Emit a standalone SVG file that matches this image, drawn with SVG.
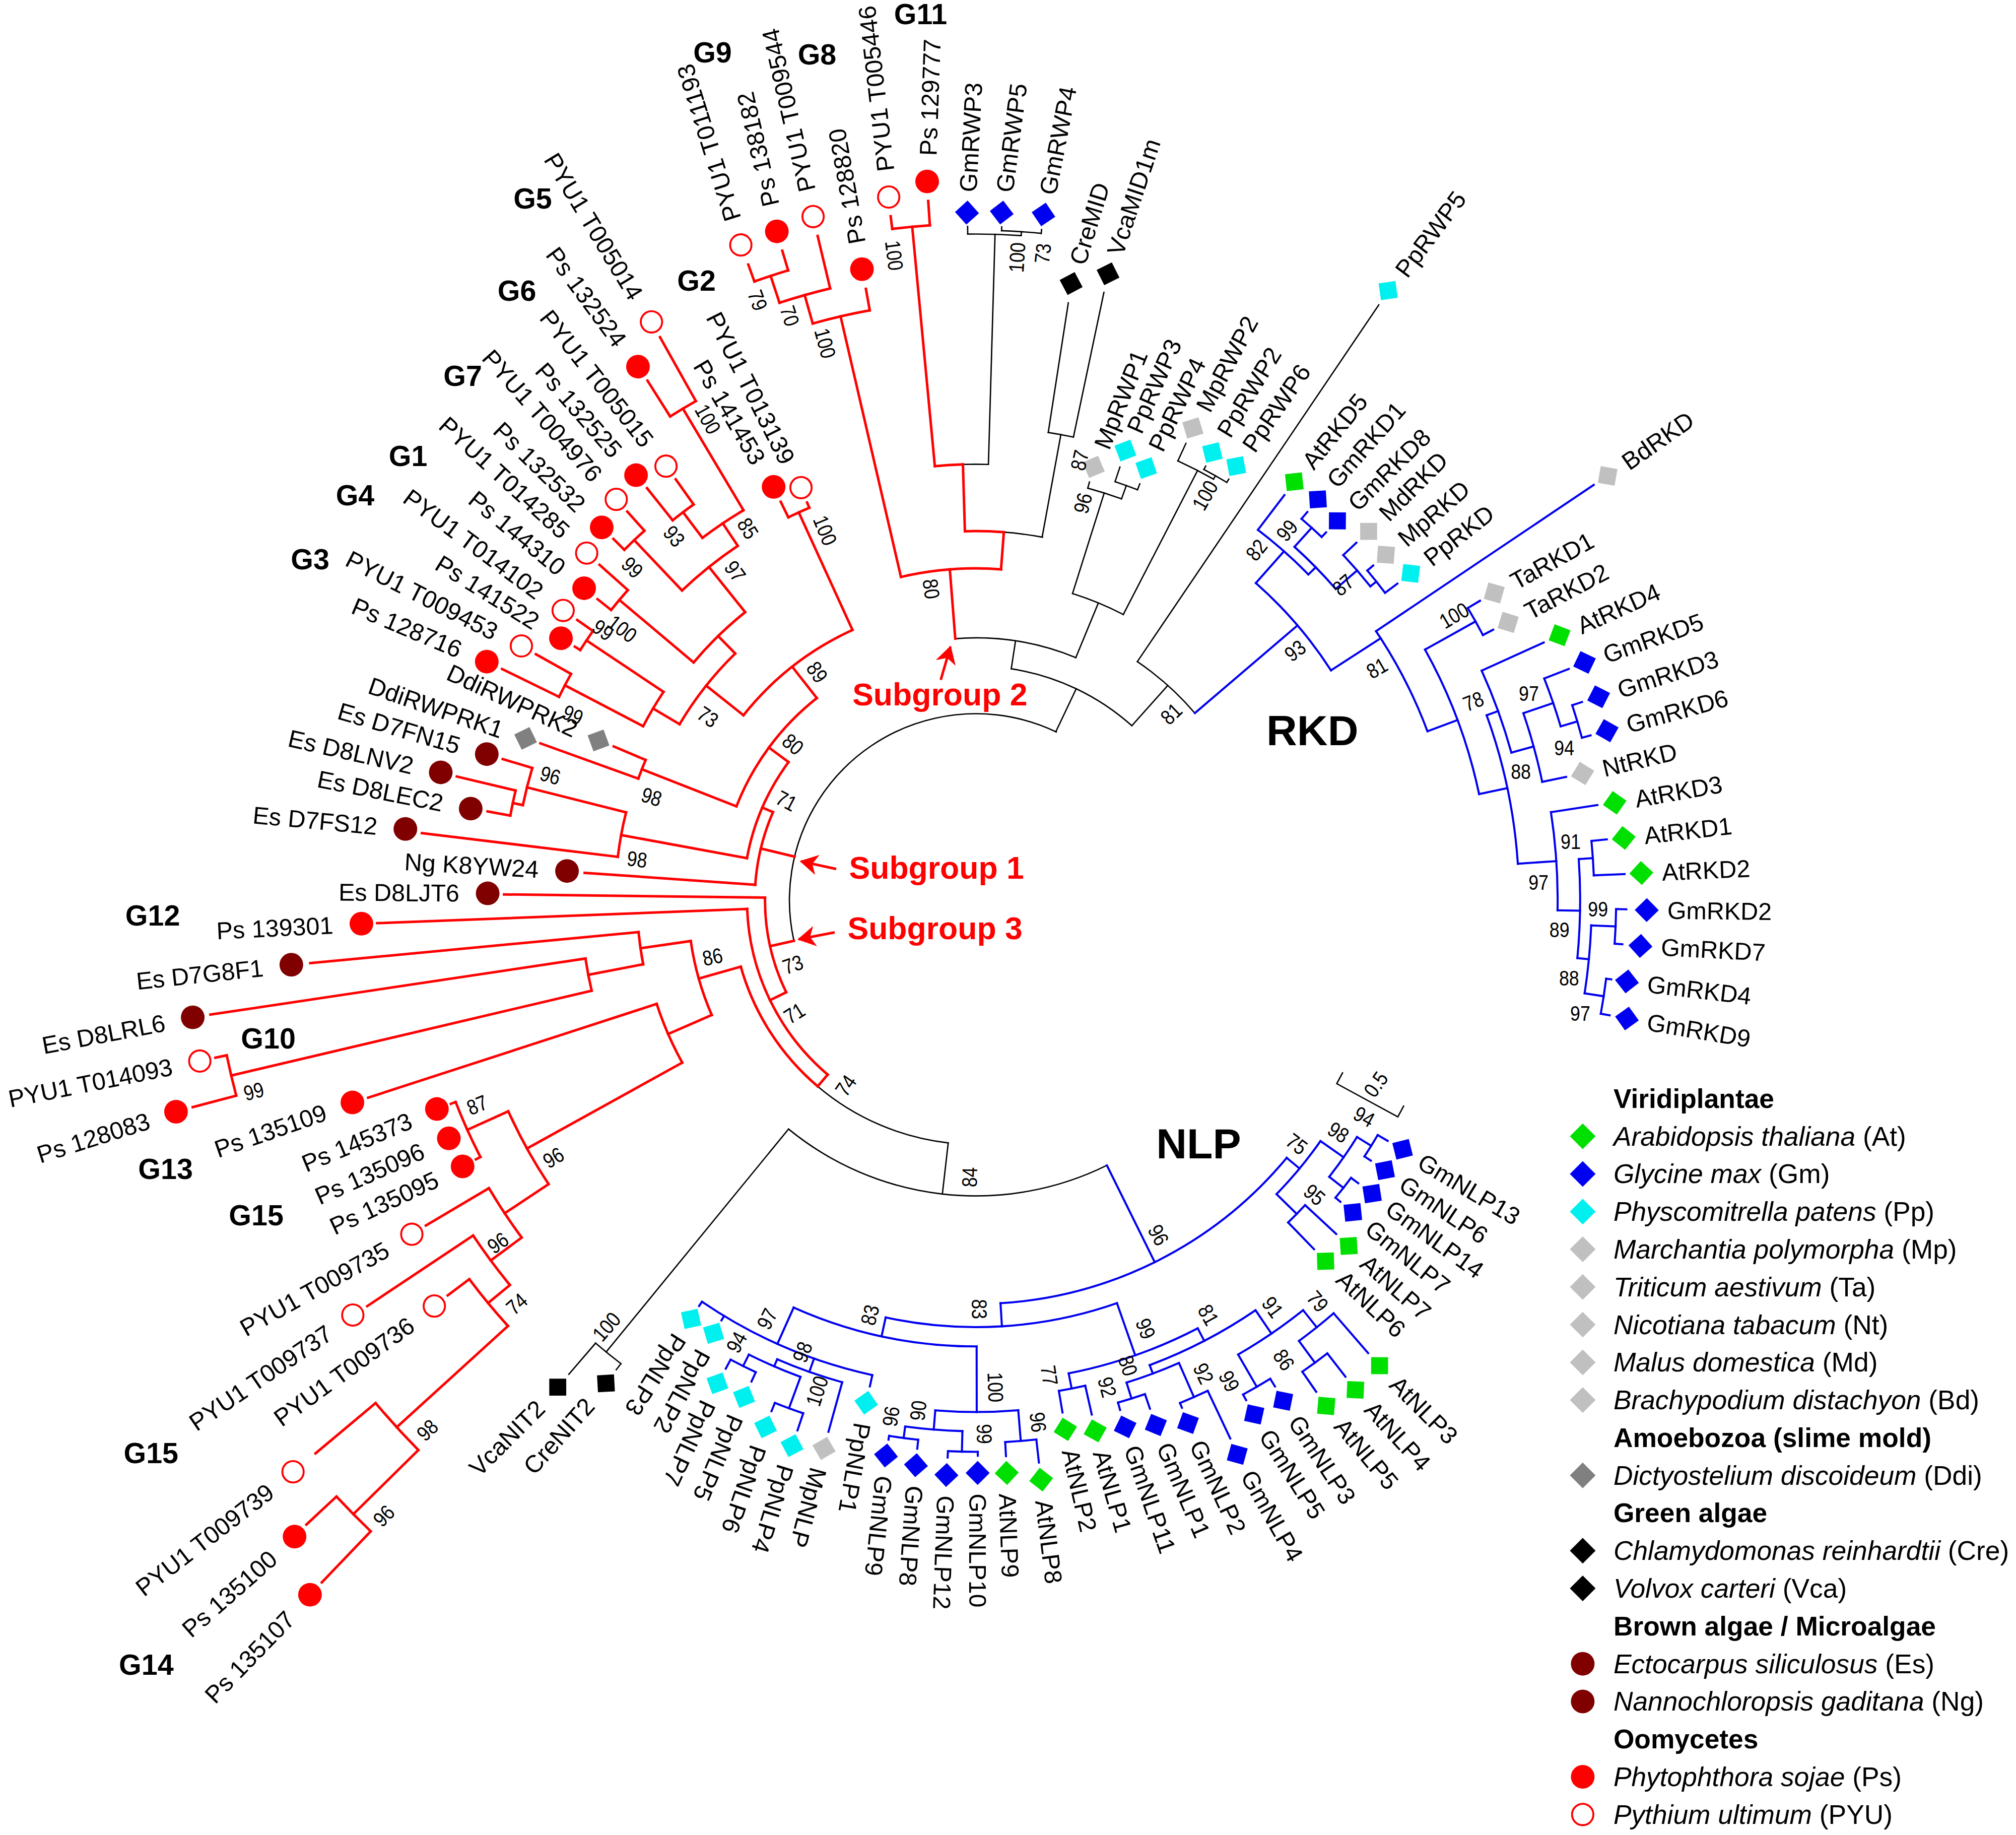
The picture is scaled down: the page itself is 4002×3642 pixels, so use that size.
<svg xmlns="http://www.w3.org/2000/svg" width="4002" height="3642" viewBox="0 0 4002 3642">
<style>
text{font-family:"Liberation Sans",Arial,sans-serif;fill:#000}
.lf{font-size:19px;dominant-baseline:central}
.e{text-anchor:end}
.bs{font-size:16.5px;text-anchor:middle;dominant-baseline:central}
.gl{font-size:22.5px;font-weight:bold}
.sg{font-size:24.5px;font-weight:bold;fill:#ff0000}
.cl{font-size:33px;font-weight:bold}
.lg{font-size:20.9px}
.lh{font-size:20.9px;font-weight:bold}
.i{font-style:italic}
.r{fill:none;stroke:#ff0000;stroke-width:1.96px;stroke-linecap:square}
.k{fill:none;stroke:#000;stroke-width:1.05px;stroke-linecap:square}
.b{fill:none;stroke:#0000f0;stroke-width:1.6px;stroke-linecap:square}
</style>
<defs>
<circle id="ps" r="9.2" fill="#ff0000"/>
<circle id="py" r="8.3" fill="#fff" stroke="#ff0000" stroke-width="1.5"/>
<circle id="es" r="9.2" fill="#800000"/>
<rect id="sq" x="-6.6" y="-6.6" width="13.2" height="13.2"/>
<marker id="ah" viewBox="0 0 14 16" refX="13" refY="8" markerWidth="14" markerHeight="16" markerUnits="userSpaceOnUse" orient="auto"><path d="M0,0 L14,8 L0,16 L4,8 z" fill="#ff0000"/></marker>
</defs>
<rect width="4002" height="3642" fill="#fff"/>
<g transform="scale(2.5523)">
<g id="branches" transform="translate(759,700)">
<g id="br-black" class="k">
<circle r="145" stroke-dasharray="324.2 9999" transform="rotate(167.4)"/>
<path d="M145,0H182" transform="rotate(-64.6)"/>
<circle r="182" stroke-dasharray="105.1 9999" transform="rotate(-81.3)"/>
<path d="M182,0H204" transform="rotate(-81.3)"/>
<circle r="204" stroke-dasharray="95.8 9999" transform="rotate(-94.5)"/>
<path d="M204,0H250" transform="rotate(-67.6)"/>
<circle r="250" stroke-dasharray="42.8 9999" transform="rotate(-72.5)"/>
<path d="M250,0H332" transform="rotate(-72.5)"/>
<circle r="332" stroke-dasharray="27.5 9999" transform="rotate(-74.8)"/>
<path d="M332,0H337" transform="rotate(-74.8)"/>
<path d="M332,0H343" transform="rotate(-70.05)"/>
<circle r="343" stroke-dasharray="18.6 9999" transform="rotate(-71.6)"/>
<path d="M343,0H355" transform="rotate(-71.6)"/>
<path d="M343,0H348" transform="rotate(-68.5)"/>
<path d="M250,0H376" transform="rotate(-62.7)"/>
<circle r="376" stroke-dasharray="31.2 9999" transform="rotate(-65.3)"/>
<path d="M376,0H391" transform="rotate(-65.3)"/>
<path d="M376,0H379" transform="rotate(-60.55)"/>
<circle r="379" stroke-dasharray="20.5 9999" transform="rotate(-62.1)"/>
<path d="M379,0H382" transform="rotate(-62.1)"/>
<path d="M379,0H382" transform="rotate(-59)"/>
<path d="M182,0H224" transform="rotate(-48.2)"/>
<circle r="224" stroke-dasharray="60.2 9999" transform="rotate(-55.9)"/>
<path d="M224,0H559" transform="rotate(-55.9)"/>
<circle r="287" stroke-dasharray="30.3 9999" transform="rotate(-85.65)"/>
<path d="M287,0H368" transform="rotate(-79.65)"/>
<circle r="368" stroke-dasharray="19.9 9999" transform="rotate(-81.2)"/>
<path d="M368,0H470" transform="rotate(-81.2)"/>
<path d="M368,0H483" transform="rotate(-78.1)"/>
<circle r="339" stroke-dasharray="19.8 9999" transform="rotate(-91.7)"/>
<path d="M339,0H518" transform="rotate(-88.35)"/>
<circle r="518" stroke-dasharray="41.6 9999" transform="rotate(-90.7)"/>
<path d="M518,0H524" transform="rotate(-90.7)"/>
<path d="M518,0H521" transform="rotate(-86.1)"/>
<circle r="521" stroke-dasharray="30.9 9999" transform="rotate(-87.8)"/>
<path d="M521,0H524" transform="rotate(-87.8)"/>
<path d="M521,0H524" transform="rotate(-84.4)"/>
<circle r="230" stroke-dasharray="263.3 9999" transform="rotate(63.7)"/>
<path d="M190,0H230" transform="rotate(96.5)"/>
<circle r="190" stroke-dasharray="112.2 9999" transform="rotate(96.5)"/>
<path d="M230,0H454" transform="rotate(129.3)"/>
<circle r="454" stroke-dasharray="25.4 9999" transform="rotate(127.45)"/>
<path d="M454,0H460" transform="rotate(127.45)"/>
<path d="M454,0H486" transform="rotate(130.65)"/>
</g>
<g id="br-red" class="r">
<path d="M204,0H258" transform="rotate(-94.5)"/>
<circle r="258" stroke-dasharray="78.4 9999" transform="rotate(-103.05)"/>
<path d="M258,0H466" transform="rotate(-103.05)"/>
<circle r="466" stroke-dasharray="45.5 9999" transform="rotate(-105.8)"/>
<path d="M466,0H483" transform="rotate(-100.2)"/>
<path d="M466,0H489" transform="rotate(-105.8)"/>
<circle r="489" stroke-dasharray="41 9999" transform="rotate(-108.2)"/>
<path d="M489,0H531" transform="rotate(-103.4)"/>
<path d="M489,0H511" transform="rotate(-108.2)"/>
<circle r="511" stroke-dasharray="27.7 9999" transform="rotate(-109.7)"/>
<path d="M511,0H525" transform="rotate(-109.7)"/>
<path d="M511,0H527" transform="rotate(-106.6)"/>
<path d="M258,0H287" transform="rotate(-85.65)"/>
<circle r="287" stroke-dasharray="30.3 9999" transform="rotate(-91.7)"/>
<path d="M287,0H339" transform="rotate(-91.7)"/>
<circle r="339" stroke-dasharray="21.9 9999" transform="rotate(-95.4)"/>
<path d="M339,0H526" transform="rotate(-95.4)"/>
<circle r="526" stroke-dasharray="29.4 9999" transform="rotate(-97.1)"/>
<path d="M526,0H536" transform="rotate(-97.1)"/>
<path d="M526,0H545" transform="rotate(-93.9)"/>
<path d="M145,0H172" transform="rotate(-166.5)"/>
<circle r="172" stroke-dasharray="58.4 9999" transform="rotate(-176)"/>
<path d="M172,0H305" transform="rotate(-176)"/>
<path d="M172,0H181" transform="rotate(-156.55)"/>
<circle r="181" stroke-dasharray="82.1 9999" transform="rotate(-169.6)"/>
<path d="M181,0H280.5" transform="rotate(-169.6)"/>
<circle r="280.5" stroke-dasharray="35.2 9999" transform="rotate(-173.1)"/>
<path d="M280.5,0H434" transform="rotate(-173.1)"/>
<path d="M280.5,0H360" transform="rotate(-165.9)"/>
<circle r="360" stroke-dasharray="29.8 9999" transform="rotate(-168.15)"/>
<path d="M360,0H384" transform="rotate(-163.4)"/>
<path d="M360,0H368" transform="rotate(-168.15)"/>
<circle r="368" stroke-dasharray="19.9 9999" transform="rotate(-169.7)"/>
<path d="M368,0H386" transform="rotate(-169.7)"/>
<path d="M368,0H415" transform="rotate(-166.6)"/>
<path d="M181,0H200" transform="rotate(-143.6)"/>
<circle r="200" stroke-dasharray="106.1 9999" transform="rotate(-158.6)"/>
<path d="M200,0H279" transform="rotate(-158.6)"/>
<circle r="279" stroke-dasharray="15.6 9999" transform="rotate(-160.2)"/>
<path d="M279,0H360" transform="rotate(-160.2)"/>
<path d="M279,0H306" transform="rotate(-157)"/>
<path d="M200,0H231" transform="rotate(-128.2)"/>
<circle r="231" stroke-dasharray="108.7 9999" transform="rotate(-141.5)"/>
<path d="M231,0H331.5" transform="rotate(-114.55)"/>
<circle r="331.5" stroke-dasharray="17.9 9999" transform="rotate(-116.1)"/>
<path d="M331.5,0H345" transform="rotate(-116.1)"/>
<path d="M331.5,0H336" transform="rotate(-113)"/>
<path d="M231,0H268" transform="rotate(-141.5)"/>
<circle r="268" stroke-dasharray="70.2 9999" transform="rotate(-149.3)"/>
<path d="M268,0H292" transform="rotate(-149.3)"/>
<circle r="292" stroke-dasharray="31.1 9999" transform="rotate(-152.4)"/>
<path d="M292,0H360.7" transform="rotate(-152.4)"/>
<circle r="360.7" stroke-dasharray="20.1 9999" transform="rotate(-154)"/>
<path d="M360.7,0H410" transform="rotate(-154)"/>
<path d="M360.7,0H392" transform="rotate(-150.8)"/>
<path d="M292,0H364" transform="rotate(-146.3)"/>
<circle r="364" stroke-dasharray="17.8 9999" transform="rotate(-147.7)"/>
<path d="M364,0H369" transform="rotate(-147.7)"/>
<path d="M364,0H379" transform="rotate(-144.9)"/>
<path d="M268,0H287" transform="rotate(-134.3)"/>
<circle r="287" stroke-dasharray="56.1 9999" transform="rotate(-139.9)"/>
<path d="M287,0H362.5" transform="rotate(-139.9)"/>
<circle r="362.5" stroke-dasharray="20.2 9999" transform="rotate(-141.5)"/>
<path d="M362.5,0H376" transform="rotate(-141.5)"/>
<path d="M362.5,0H392" transform="rotate(-138.3)"/>
<path d="M287,0H332" transform="rotate(-128.7)"/>
<circle r="332" stroke-dasharray="55.6 9999" transform="rotate(-133.5)"/>
<path d="M332,0H386" transform="rotate(-133.5)"/>
<circle r="386" stroke-dasharray="21.6 9999" transform="rotate(-135.1)"/>
<path d="M386,0H398" transform="rotate(-135.1)"/>
<path d="M386,0H406" transform="rotate(-131.9)"/>
<path d="M332,0H353" transform="rotate(-123.9)"/>
<circle r="353" stroke-dasharray="38.5 9999" transform="rotate(-127.05)"/>
<path d="M353,0H378" transform="rotate(-127.05)"/>
<circle r="378" stroke-dasharray="20.5 9999" transform="rotate(-128.6)"/>
<path d="M378,0H410" transform="rotate(-128.6)"/>
<path d="M378,0H402" transform="rotate(-125.5)"/>
<path d="M353,0H445" transform="rotate(-120.8)"/>
<circle r="445" stroke-dasharray="23.3 9999" transform="rotate(-122.3)"/>
<path d="M445,0H478" transform="rotate(-122.3)"/>
<path d="M445,0H502" transform="rotate(-119.3)"/>
<path d="M145,0H164" transform="rotate(167.4)"/>
<circle r="164" stroke-dasharray="76.1 9999" transform="rotate(154.1)"/>
<path d="M164,0H367" transform="rotate(180.7)"/>
<path d="M164,0H178" transform="rotate(154.1)"/>
<circle r="178" stroke-dasharray="147.4 9999" transform="rotate(130.35)"/>
<path d="M178,0H466" transform="rotate(177.8)"/>
<path d="M178,0H190" transform="rotate(130.35)"/>
<circle r="190" stroke-dasharray="112.3 9999" transform="rotate(130.35)"/>
<path d="M190,0H224" transform="rotate(164.2)"/>
<circle r="224" stroke-dasharray="60 9999" transform="rotate(156.5)"/>
<path d="M224,0H263.5" transform="rotate(171.85)"/>
<circle r="263.5" stroke-dasharray="25.3 9999" transform="rotate(169.1)"/>
<path d="M263.5,0H520" transform="rotate(174.6)"/>
<path d="M263.5,0H307" transform="rotate(169.1)"/>
<circle r="307" stroke-dasharray="25.5 9999" transform="rotate(166.75)"/>
<path d="M307,0H602" transform="rotate(171.5)"/>
<path d="M307,0H595" transform="rotate(166.75)"/>
<circle r="595" stroke-dasharray="32.2 9999" transform="rotate(165.2)"/>
<path d="M595,0H604" transform="rotate(168.3)"/>
<path d="M595,0H630" transform="rotate(165.2)"/>
<path d="M224,0H261" transform="rotate(156.5)"/>
<circle r="261" stroke-dasharray="49.9 9999" transform="rotate(151.05)"/>
<path d="M261,0H497" transform="rotate(162)"/>
<path d="M261,0H399" transform="rotate(151.05)"/>
<circle r="399" stroke-dasharray="64.8 9999" transform="rotate(146.4)"/>
<path d="M399,0H434" transform="rotate(155.7)"/>
<circle r="434" stroke-dasharray="47 9999" transform="rotate(152.6)"/>
<path d="M434,0H438" transform="rotate(158.8)"/>
<path d="M434,0H438" transform="rotate(152.6)"/>
<path d="M399,0H440" transform="rotate(146.4)"/>
<circle r="440" stroke-dasharray="46.1 9999" transform="rotate(143.4)"/>
<path d="M440,0H497" transform="rotate(149.4)"/>
<path d="M440,0H470" transform="rotate(143.4)"/>
<circle r="470" stroke-dasharray="48 9999" transform="rotate(140.45)"/>
<path d="M470,0H569" transform="rotate(146.3)"/>
<path d="M470,0H492" transform="rotate(140.45)"/>
<circle r="492" stroke-dasharray="47.2 9999" transform="rotate(137.7)"/>
<path d="M492,0H513" transform="rotate(143.2)"/>
<path d="M492,0H609" transform="rotate(137.7)"/>
<circle r="609" stroke-dasharray="49.4 9999" transform="rotate(135.4)"/>
<path d="M609,0H670" transform="rotate(140.05)"/>
<path d="M609,0H680" transform="rotate(135.4)"/>
<circle r="680" stroke-dasharray="38 9999" transform="rotate(133.8)"/>
<path d="M680,0H712" transform="rotate(137)"/>
<path d="M680,0H735" transform="rotate(133.8)"/>
</g>
<g id="br-blue" class="b">
<path d="M224,0H329" transform="rotate(-40.5)"/>
<circle r="329" stroke-dasharray="89.9 9999" transform="rotate(-48.55)"/>
<path d="M329,0H362" transform="rotate(-48.55)"/>
<circle r="362" stroke-dasharray="52.4 9999" transform="rotate(-52.7)"/>
<path d="M362,0H396" transform="rotate(-52.7)"/>
<path d="M362,0H370" transform="rotate(-44.4)"/>
<circle r="370" stroke-dasharray="45.9 9999" transform="rotate(-47.95)"/>
<path d="M370,0H390" transform="rotate(-47.95)"/>
<circle r="390" stroke-dasharray="21.1 9999" transform="rotate(-49.5)"/>
<path d="M390,0H397" transform="rotate(-49.5)"/>
<path d="M390,0H395" transform="rotate(-46.4)"/>
<path d="M370,0H392" transform="rotate(-40.85)"/>
<circle r="392" stroke-dasharray="32.2 9999" transform="rotate(-43.2)"/>
<path d="M392,0H406" transform="rotate(-43.2)"/>
<path d="M392,0H398" transform="rotate(-38.5)"/>
<circle r="398" stroke-dasharray="22.2 9999" transform="rotate(-40.1)"/>
<path d="M398,0H404" transform="rotate(-40.1)"/>
<path d="M398,0H410" transform="rotate(-36.9)"/>
<path d="M329,0H375" transform="rotate(-32.9)"/>
<circle r="375" stroke-dasharray="87.7 9999" transform="rotate(-33.9)"/>
<path d="M375,0H579" transform="rotate(-33.9)"/>
<path d="M375,0H400" transform="rotate(-20.5)"/>
<circle r="400" stroke-dasharray="120.4 9999" transform="rotate(-29.15)"/>
<path d="M400,0H445" transform="rotate(-29.15)"/>
<circle r="445" stroke-dasharray="24.1 9999" transform="rotate(-30.7)"/>
<path d="M445,0H456" transform="rotate(-30.7)"/>
<path d="M445,0H454" transform="rotate(-27.6)"/>
<path d="M400,0H422.5" transform="rotate(-11.9)"/>
<circle r="422.5" stroke-dasharray="118.4 9999" transform="rotate(-19.9)"/>
<path d="M422.5,0H432" transform="rotate(-19.9)"/>
<circle r="432" stroke-dasharray="67.9 9999" transform="rotate(-24.4)"/>
<path d="M432,0H485" transform="rotate(-24.4)"/>
<path d="M432,0H450" transform="rotate(-15.4)"/>
<circle r="450" stroke-dasharray="55.4 9999" transform="rotate(-18.85)"/>
<path d="M450,0H469" transform="rotate(-11.8)"/>
<path d="M450,0H474.5" transform="rotate(-18.85)"/>
<circle r="474.5" stroke-dasharray="39.3 9999" transform="rotate(-21.3)"/>
<path d="M474.5,0H495" transform="rotate(-21.3)"/>
<path d="M474.5,0H488" transform="rotate(-16.55)"/>
<circle r="488" stroke-dasharray="26.4 9999" transform="rotate(-18.1)"/>
<path d="M488,0H496" transform="rotate(-18.1)"/>
<path d="M488,0H495" transform="rotate(-15)"/>
<path d="M422.5,0H452.5" transform="rotate(-3.85)"/>
<circle r="452.5" stroke-dasharray="76.6 9999" transform="rotate(-8.7)"/>
<path d="M452.5,0H489" transform="rotate(-8.7)"/>
<path d="M452.5,0H470" transform="rotate(1)"/>
<circle r="470" stroke-dasharray="77.1 9999" transform="rotate(-3.9)"/>
<path d="M470,0H481" transform="rotate(-3.9)"/>
<circle r="481" stroke-dasharray="26.9 9999" transform="rotate(-5.5)"/>
<path d="M481,0H493" transform="rotate(-5.5)"/>
<path d="M481,0H505" transform="rotate(-2.3)"/>
<path d="M470,0H479" transform="rotate(5.5)"/>
<circle r="479" stroke-dasharray="53.1 9999" transform="rotate(2.35)"/>
<path d="M479,0H498" transform="rotate(2.35)"/>
<circle r="498" stroke-dasharray="26.9 9999" transform="rotate(0.8)"/>
<path d="M498,0H506" transform="rotate(0.8)"/>
<path d="M498,0H504" transform="rotate(3.9)"/>
<path d="M479,0H494" transform="rotate(8.7)"/>
<circle r="494" stroke-dasharray="27.6 9999" transform="rotate(7.1)"/>
<path d="M494,0H498" transform="rotate(7.1)"/>
<path d="M494,0H501" transform="rotate(10.3)"/>
<path d="M230,0H314" transform="rotate(63.7)"/>
<circle r="314" stroke-dasharray="256.8 9999" transform="rotate(39.65)"/>
<path d="M314,0H327" transform="rotate(39.65)"/>
<circle r="327" stroke-dasharray="53.6 9999" transform="rotate(34.95)"/>
<path d="M327,0H349" transform="rotate(34.95)"/>
<circle r="349" stroke-dasharray="37.8 9999" transform="rotate(31.85)"/>
<path d="M349,0H362" transform="rotate(31.85)"/>
<circle r="362" stroke-dasharray="19.6 9999" transform="rotate(30.3)"/>
<path d="M362,0H371" transform="rotate(30.3)"/>
<path d="M362,0H368" transform="rotate(33.4)"/>
<path d="M349,0H363" transform="rotate(38.05)"/>
<circle r="363" stroke-dasharray="19.6 9999" transform="rotate(36.5)"/>
<path d="M363,0H370" transform="rotate(36.5)"/>
<path d="M363,0H368" transform="rotate(39.6)"/>
<path d="M327,0H349" transform="rotate(44.35)"/>
<circle r="349" stroke-dasharray="18.9 9999" transform="rotate(42.8)"/>
<path d="M349,0H382" transform="rotate(42.8)"/>
<path d="M349,0H378" transform="rotate(45.9)"/>
<path d="M314,0H332" transform="rotate(86.5)"/>
<circle r="332" stroke-dasharray="182.5 9999" transform="rotate(70.7)"/>
<path d="M332,0H375" transform="rotate(70.7)"/>
<circle r="375" stroke-dasharray="106.7 9999" transform="rotate(62.6)"/>
<path d="M375,0H387" transform="rotate(78.9)"/>
<circle r="387" stroke-dasharray="20.9 9999" transform="rotate(77.3)"/>
<path d="M387,0H410" transform="rotate(77.3)"/>
<path d="M387,0H404" transform="rotate(80.4)"/>
<path d="M375,0H386" transform="rotate(62.6)"/>
<circle r="386" stroke-dasharray="93 9999" transform="rotate(55.7)"/>
<path d="M386,0H408" transform="rotate(55.7)"/>
<circle r="408" stroke-dasharray="61.2 9999" transform="rotate(51.4)"/>
<path d="M408,0H425" transform="rotate(51.4)"/>
<circle r="425" stroke-dasharray="34.5 9999" transform="rotate(49.1)"/>
<path d="M425,0H466" transform="rotate(49.1)"/>
<path d="M425,0H446" transform="rotate(53.75)"/>
<circle r="446" stroke-dasharray="24.1 9999" transform="rotate(52.2)"/>
<path d="M446,0H469" transform="rotate(52.2)"/>
<path d="M446,0H465" transform="rotate(55.3)"/>
<path d="M408,0H437" transform="rotate(60)"/>
<circle r="437" stroke-dasharray="24.4 9999" transform="rotate(58.4)"/>
<path d="M437,0H444" transform="rotate(58.4)"/>
<path d="M437,0H442" transform="rotate(61.6)"/>
<path d="M386,0H393" transform="rotate(69.5)"/>
<circle r="393" stroke-dasharray="43.6 9999" transform="rotate(66.3)"/>
<path d="M393,0H406" transform="rotate(72.65)"/>
<circle r="406" stroke-dasharray="22 9999" transform="rotate(71.1)"/>
<path d="M406,0H418" transform="rotate(71.1)"/>
<path d="M406,0H412" transform="rotate(74.2)"/>
<path d="M393,0H422" transform="rotate(66.3)"/>
<circle r="422" stroke-dasharray="23.6 9999" transform="rotate(64.7)"/>
<path d="M422,0H463" transform="rotate(64.7)"/>
<path d="M422,0H426" transform="rotate(67.9)"/>
<path d="M332,0H347" transform="rotate(102.2)"/>
<circle r="347" stroke-dasharray="146.6 9999" transform="rotate(89.9)"/>
<path d="M347,0H398" transform="rotate(89.9)"/>
<circle r="398" stroke-dasharray="64.6 9999" transform="rotate(85.25)"/>
<path d="M398,0H422" transform="rotate(85.25)"/>
<circle r="422" stroke-dasharray="24.3 9999" transform="rotate(83.6)"/>
<path d="M422,0H440" transform="rotate(83.6)"/>
<path d="M422,0H433" transform="rotate(86.9)"/>
<path d="M398,0H413" transform="rotate(94.55)"/>
<circle r="413" stroke-dasharray="44.7 9999" transform="rotate(91.45)"/>
<path d="M413,0H429" transform="rotate(91.45)"/>
<circle r="429" stroke-dasharray="23.2 9999" transform="rotate(89.8)"/>
<path d="M429,0H432" transform="rotate(89.8)"/>
<path d="M429,0H434" transform="rotate(92.9)"/>
<path d="M413,0H422" transform="rotate(97.65)"/>
<circle r="422" stroke-dasharray="22.8 9999" transform="rotate(96.1)"/>
<path d="M422,0H429" transform="rotate(96.1)"/>
<path d="M422,0H425" transform="rotate(99.2)"/>
<path d="M347,0H378" transform="rotate(114.1)"/>
<circle r="378" stroke-dasharray="145.1 9999" transform="rotate(102.3)"/>
<path d="M378,0H382" transform="rotate(124.3)"/>
<path d="M378,0H382" transform="rotate(121.2)"/>
<path d="M378,0H387" transform="rotate(102.3)"/>
<path d="M378,0H389" transform="rotate(109.45)"/>
<circle r="389" stroke-dasharray="53.6 9999" transform="rotate(105.5)"/>
<path d="M389,0H429" transform="rotate(105.5)"/>
<path d="M389,0H395" transform="rotate(113.4)"/>
<circle r="395" stroke-dasharray="43.8 9999" transform="rotate(110.2)"/>
<path d="M395,0H421" transform="rotate(110.2)"/>
<circle r="421" stroke-dasharray="23.5 9999" transform="rotate(108.6)"/>
<path d="M421,0H435" transform="rotate(108.6)"/>
<path d="M421,0H428" transform="rotate(111.8)"/>
<path d="M395,0H405" transform="rotate(116.55)"/>
<circle r="405" stroke-dasharray="21.9 9999" transform="rotate(115)"/>
<path d="M405,0H413" transform="rotate(115)"/>
<path d="M405,0H413" transform="rotate(118.1)"/>
</g>
</g>
<g id="leaves">
<g id="leaf-PYU1-T011193"><use href="#py" x="576.2" y="190.5"/><text class="lf" transform="translate(570.2,171.4) rotate(-107.4)">PYU1 T011193</text></g>
<g id="leaf-Ps-138182"><use href="#ps" x="604.2" y="179.9"/><text class="lf" transform="translate(599.7,160.4) rotate(-103)">Ps 138182</text></g>
<g id="leaf-PYU1-T009544"><use href="#py" x="632.4" y="168.4"/><text class="lf" transform="translate(627.9,148.9) rotate(-103)">PYU1 T009544</text></g>
<g id="leaf-Ps-128820"><use href="#ps" x="670.4" y="209.3"/><text class="lf" transform="translate(666.8,189.6) rotate(-100.3)">Ps 128820</text></g>
<g id="leaf-PYU1-T005446"><use href="#py" x="691.2" y="153.2"/><text class="lf" transform="translate(688.9,133.3) rotate(-96.6)">PYU1 T005446</text></g>
<g id="leaf-Ps-129777"><use href="#ps" x="721.1" y="141.1"/><text class="lf" transform="translate(721.8,121.1) rotate(-88)">Ps 129777</text></g>
<g id="leaf-GmRWP3"><use href="#sq" fill="#0000f0" transform="translate(752.1,165.3) rotate(-42)"/><text class="lf" transform="translate(752.9,149.3) rotate(-87)">GmRWP3</text></g>
<g id="leaf-GmRWP5"><use href="#sq" fill="#0000f0" transform="translate(779.1,165.3) rotate(-37.5)"/><text class="lf" transform="translate(781.2,149.4) rotate(-82.5)">GmRWP5</text></g>
<g id="leaf-GmRWP4"><use href="#sq" fill="#0000f0" transform="translate(811.6,166.8) rotate(-34)"/><text class="lf" transform="translate(814.7,151.1) rotate(-79)">GmRWP4</text></g>
<g id="leaf-CreMID"><use href="#sq" fill="#000" transform="translate(833.1,220.5) rotate(-28)"/><text class="lf" transform="translate(837.8,205.2) rotate(-73)">CreMID</text></g>
<g id="leaf-VcaMID1m"><use href="#sq" fill="#000" transform="translate(861.8,212.9) rotate(-26.6)"/><text class="lf" transform="translate(866.9,197.7) rotate(-71.6)">VcaMID1m</text></g>
<g id="leaf-PpRWP5"><use href="#sq" fill="#00f0f0" transform="translate(1079.7,226) rotate(-8.1)"/><text class="lf" transform="translate(1089.3,213.2) rotate(-53.1)">PpRWP5</text></g>
<g id="leaf-MpRWP1"><use href="#sq" fill="#c0c0c0" transform="translate(850.6,363.1) rotate(-23)"/><text class="lf" transform="translate(856.6,348.3) rotate(-68)">MpRWP1</text></g>
<g id="leaf-PpRWP3"><use href="#sq" fill="#00f0f0" transform="translate(875.3,350.4) rotate(-21)"/><text class="lf" transform="translate(881.8,335.8) rotate(-66)">PpRWP3</text></g>
<g id="leaf-PpRWP4"><use href="#sq" fill="#00f0f0" transform="translate(891.5,364) rotate(-19.2)"/><text class="lf" transform="translate(898.5,349.6) rotate(-64.2)">PpRWP4</text></g>
<g id="leaf-MpRWP2"><use href="#sq" fill="#c0c0c0" transform="translate(927.8,332.8) rotate(-17)"/><text class="lf" transform="translate(935.3,318.7) rotate(-62)">MpRWP2</text></g>
<g id="leaf-PpRWP2"><use href="#sq" fill="#00f0f0" transform="translate(943,351.9) rotate(-13.7)"/><text class="lf" transform="translate(951.3,338.2) rotate(-58.7)">PpRWP2</text></g>
<g id="leaf-PpRWP6"><use href="#sq" fill="#00f0f0" transform="translate(961.5,362.5) rotate(-10.4)"/><text class="lf" transform="translate(970.6,349.3) rotate(-55.4)">PpRWP6</text></g>
<g id="leaf-AtRKD5"><use href="#sq" fill="#00e000" transform="translate(1006.7,374.6) rotate(-6.3)"/><text class="lf" transform="translate(1016.7,362.1) rotate(-51.3)">AtRKD5</text></g>
<g id="leaf-GmRKD1"><use href="#sq" fill="#0000f0" transform="translate(1025,388.3) rotate(-3.6)"/><text class="lf" transform="translate(1035.6,376.3) rotate(-48.6)">GmRKD1</text></g>
<g id="leaf-GmRKD8"><use href="#sq" fill="#0000f0" transform="translate(1040.2,405) rotate(0.4)"/><text class="lf" transform="translate(1051.6,393.8) rotate(-44.6)">GmRKD8</text></g>
<g id="leaf-MdRKD"><use href="#sq" fill="#c0c0c0" transform="translate(1064.5,413.2) rotate(-0.2)"/><text class="lf" transform="translate(1075.8,401.8) rotate(-45.2)">MdRKD</text></g>
<g id="leaf-MpRKD"><use href="#sq" fill="#c0c0c0" transform="translate(1077.9,431.4) rotate(4.2)"/><text class="lf" transform="translate(1090,421) rotate(-40.8)">MpRKD</text></g>
<g id="leaf-PpRKD"><use href="#sq" fill="#00f0f0" transform="translate(1097.2,445.9) rotate(6.7)"/><text class="lf" transform="translate(1109.8,436) rotate(-38.3)">PpRKD</text></g>
<g id="leaf-BdRKD"><use href="#sq" fill="#c0c0c0" transform="translate(1250.4,370.1) rotate(9.9)"/><text class="lf" transform="translate(1263.5,360.9) rotate(-35.1)">BdRKD</text></g>
<g id="leaf-TaRKD1"><use href="#sq" fill="#c0c0c0" transform="translate(1162.2,461.1) rotate(16)"/><text class="lf" transform="translate(1176.2,453.3) rotate(-29)">TaRKD1</text></g>
<g id="leaf-TaRKD2"><use href="#sq" fill="#c0c0c0" transform="translate(1173,484) rotate(17.1)"/><text class="lf" transform="translate(1187.1,476.5) rotate(-27.9)">TaRKD2</text></g>
<g id="leaf-AtRKD4"><use href="#sq" fill="#00e000" transform="translate(1213,494) rotate(20.7)"/><text class="lf" transform="translate(1227.6,487.4) rotate(-24.3)">AtRKD4</text></g>
<g id="leaf-GmRKD5"><use href="#sq" fill="#0000f0" transform="translate(1232.4,515.1) rotate(25.5)"/><text class="lf" transform="translate(1247.5,509.8) rotate(-19.5)">GmRKD5</text></g>
<g id="leaf-GmRKD3"><use href="#sq" fill="#0000f0" transform="translate(1243.4,541.8) rotate(27)"/><text class="lf" transform="translate(1258.6,536.9) rotate(-18)">GmRKD3</text></g>
<g id="leaf-GmRKD6"><use href="#sq" fill="#0000f0" transform="translate(1249.9,568.2) rotate(29.5)"/><text class="lf" transform="translate(1265.3,563.9) rotate(-15.5)">GmRKD6</text></g>
<g id="leaf-NtRKD"><use href="#sq" fill="#c0c0c0" transform="translate(1230.9,601.5) rotate(31.5)"/><text class="lf" transform="translate(1246.5,597.8) rotate(-13.5)">NtRKD</text></g>
<g id="leaf-AtRKD3"><use href="#sq" fill="#00e000" transform="translate(1255.9,624.3) rotate(35)"/><text class="lf" transform="translate(1271.7,621.5) rotate(-10)">AtRKD3</text></g>
<g id="leaf-AtRKD1"><use href="#sq" fill="#00e000" transform="translate(1262.9,651.6) rotate(38.5)"/><text class="lf" transform="translate(1278.8,649.8) rotate(-6.5)">AtRKD1</text></g>
<g id="leaf-AtRKD2"><use href="#sq" fill="#00e000" transform="translate(1276.6,678.9) rotate(42.5)"/><text class="lf" transform="translate(1292.6,678.2) rotate(-2.5)">AtRKD2</text></g>
<g id="leaf-GmRKD2"><use href="#sq" fill="#0000f0" transform="translate(1280.8,707.7) rotate(45.6)"/><text class="lf" transform="translate(1296.8,707.9) rotate(0.6)">GmRKD2</text></g>
<g id="leaf-GmRKD7"><use href="#sq" fill="#0000f0" transform="translate(1275.9,735.6) rotate(48)"/><text class="lf" transform="translate(1291.9,736.4) rotate(3)">GmRKD7</text></g>
<g id="leaf-GmRKD4"><use href="#sq" fill="#0000f0" transform="translate(1265.4,763.2) rotate(51.8)"/><text class="lf" transform="translate(1281.3,765.1) rotate(6.8)">GmRKD4</text></g>
<g id="leaf-GmRKD9"><use href="#sq" fill="#0000f0" transform="translate(1265.4,792) rotate(54.5)"/><text class="lf" transform="translate(1281.2,794.6) rotate(9.5)">GmRKD9</text></g>
<g id="leaf-GmNLP13"><use href="#sq" fill="#0000f0" transform="translate(1090.9,893.7) rotate(76)"/><text class="lf" transform="translate(1104.6,901.9) rotate(31)">GmNLP13</text></g>
<g id="leaf-GmNLP6"><use href="#sq" fill="#0000f0" transform="translate(1077.2,910) rotate(79)"/><text class="lf" transform="translate(1090.5,918.9) rotate(34)">GmNLP6</text></g>
<g id="leaf-GmNLP14"><use href="#sq" fill="#0000f0" transform="translate(1067.2,928.2) rotate(81)"/><text class="lf" transform="translate(1080.1,937.6) rotate(36)">GmNLP14</text></g>
<g id="leaf-GmNLP7"><use href="#sq" fill="#0000f0" transform="translate(1052.2,942.8) rotate(84)"/><text class="lf" transform="translate(1064.6,952.9) rotate(39)">GmNLP7</text></g>
<g id="leaf-AtNLP7"><use href="#sq" fill="#00e000" transform="translate(1049,968.9) rotate(86.3)"/><text class="lf" transform="translate(1061,979.5) rotate(41.3)">AtNLP7</text></g>
<g id="leaf-AtNLP6"><use href="#sq" fill="#00e000" transform="translate(1031,980.7) rotate(88.3)"/><text class="lf" transform="translate(1042.6,991.7) rotate(43.3)">AtNLP6</text></g>
<g id="leaf-AtNLP3"><use href="#sq" fill="#00e000" transform="translate(1073,1062) rotate(90)"/><text class="lf" transform="translate(1084.3,1073.3) rotate(45)">AtNLP3</text></g>
<g id="leaf-AtNLP4"><use href="#sq" fill="#00e000" transform="translate(1054.2,1080.8) rotate(92.5)"/><text class="lf" transform="translate(1065,1092.6) rotate(47.5)">AtNLP4</text></g>
<g id="leaf-AtNLP5"><use href="#sq" fill="#00e000" transform="translate(1031.5,1093.3) rotate(95)"/><text class="lf" transform="translate(1041.8,1105.6) rotate(50)">AtNLP5</text></g>
<g id="leaf-GmNLP3"><use href="#sq" fill="#0000f0" transform="translate(998,1089.3) rotate(101.5)"/><text class="lf" transform="translate(1006.8,1102.6) rotate(56.5)">GmNLP3</text></g>
<g id="leaf-GmNLP5"><use href="#sq" fill="#0000f0" transform="translate(975.5,1099.9) rotate(102.5)"/><text class="lf" transform="translate(984.1,1113.4) rotate(57.5)">GmNLP5</text></g>
<g id="leaf-GmNLP4"><use href="#sq" fill="#0000f0" transform="translate(962.3,1130.9) rotate(105.5)"/><text class="lf" transform="translate(970.2,1144.8) rotate(60.5)">GmNLP4</text></g>
<g id="leaf-GmNLP2"><use href="#sq" fill="#0000f0" transform="translate(924,1106.6) rotate(110)"/><text class="lf" transform="translate(930.8,1121.1) rotate(65)">GmNLP2</text></g>
<g id="leaf-GmNLP1"><use href="#sq" fill="#0000f0" transform="translate(899,1108.1) rotate(112)"/><text class="lf" transform="translate(905.3,1122.8) rotate(67)">GmNLP1</text></g>
<g id="leaf-GmNLP11"><use href="#sq" fill="#0000f0" transform="translate(875.1,1109.6) rotate(116)"/><text class="lf" transform="translate(880.3,1124.7) rotate(71)">GmNLP11</text></g>
<g id="leaf-AtNLP1"><use href="#sq" fill="#00e000" transform="translate(851.8,1112.7) rotate(119)"/><text class="lf" transform="translate(856.2,1128.1) rotate(74)">AtNLP1</text></g>
<g id="leaf-AtNLP2"><use href="#sq" fill="#00e000" transform="translate(828.6,1111.5) rotate(122)"/><text class="lf" transform="translate(832.2,1127.1) rotate(77)">AtNLP2</text></g>
<g id="leaf-AtNLP8"><use href="#sq" fill="#00e000" transform="translate(809.8,1150.6) rotate(128)"/><text class="lf" transform="translate(811.8,1166.5) rotate(83)">AtNLP8</text></g>
<g id="leaf-AtNLP9"><use href="#sq" fill="#00e000" transform="translate(783,1145.4) rotate(133)"/><text class="lf" transform="translate(783.6,1161.4) rotate(88)">AtNLP9</text></g>
<g id="leaf-GmNLP10"><use href="#sq" fill="#0000f0" transform="translate(760.4,1145.4) rotate(135)"/><text class="lf" transform="translate(760.4,1161.4) rotate(90)">GmNLP10</text></g>
<g id="leaf-GmNLP12"><use href="#sq" fill="#0000f0" transform="translate(736.1,1147) rotate(137)"/><text class="lf" transform="translate(735.5,1163) rotate(92)">GmNLP12</text></g>
<g id="leaf-GmNLP8"><use href="#sq" fill="#0000f0" transform="translate(712.4,1139.4) rotate(139)"/><text class="lf" transform="translate(711.3,1155.4) rotate(94)">GmNLP8</text></g>
<g id="leaf-GmNLP9"><use href="#sq" fill="#0000f0" transform="translate(689.1,1131.8) rotate(141)"/><text class="lf" transform="translate(687.4,1147.7) rotate(96)">GmNLP9</text></g>
<g id="leaf-PpNLP1"><use href="#sq" fill="#00f0f0" transform="translate(673.7,1090.8) rotate(145)"/><text class="lf" transform="translate(670.9,1106.6) rotate(100)">PpNLP1</text></g>
<g id="leaf-MpNLP"><use href="#sq" fill="#c0c0c0" transform="translate(640.9,1126.3) rotate(150)"/><text class="lf" transform="translate(636.8,1141.8) rotate(105)">MpNLP</text></g>
<g id="leaf-PpNLP4"><use href="#sq" fill="#00f0f0" transform="translate(616,1124.2) rotate(152)"/><text class="lf" transform="translate(611.3,1139.5) rotate(107)">PpNLP4</text></g>
<g id="leaf-PpNLP6"><use href="#sq" fill="#00f0f0" transform="translate(595.4,1109.6) rotate(154)"/><text class="lf" transform="translate(590.2,1124.7) rotate(109)">PpNLP6</text></g>
<g id="leaf-PpNLP5"><use href="#sq" fill="#00f0f0" transform="translate(578.7,1086.3) rotate(158)"/><text class="lf" transform="translate(572.4,1101) rotate(113)">PpNLP5</text></g>
<g id="leaf-PpNLP7"><use href="#sq" fill="#00f0f0" transform="translate(558,1075.7) rotate(160)"/><text class="lf" transform="translate(551.2,1090.2) rotate(115)">PpNLP7</text></g>
<g id="leaf-PpNLP2"><use href="#sq" fill="#00f0f0" transform="translate(555,1036.8) rotate(163.5)"/><text class="lf" transform="translate(547.4,1050.9) rotate(118.5)">PpNLP2</text></g>
<g id="leaf-PpNLP3"><use href="#sq" fill="#00f0f0" transform="translate(537.5,1025.6) rotate(167.4)"/><text class="lf" transform="translate(528.9,1039.1) rotate(122.4)">PpNLP3</text></g>
<g id="leaf-CreNIT2"><use href="#sq" fill="#000" transform="translate(471.3,1075.7) rotate(-3.2)"/><text class="lf e" transform="translate(458.6,1089.9) rotate(-48.2)">CreNIT2</text></g>
<g id="leaf-VcaNIT2"><use href="#sq" fill="#000" transform="translate(433.8,1078.7) rotate(0)"/><text class="lf e" transform="translate(420.4,1092.1) rotate(-45)">VcaNIT2</text></g>
<g id="leaf-PYU1-T009739"><use href="#py" x="227.9" y="1144.5"/><text class="lf e" transform="translate(210.5,1157.9) rotate(-37.6)">PYU1 T009739</text></g>
<g id="leaf-Ps-135100"><use href="#ps" x="229.1" y="1194.9"/><text class="lf e" transform="translate(212.6,1209.4) rotate(-41.3)">Ps 135100</text></g>
<g id="leaf-Ps-135107"><use href="#ps" x="241.1" y="1240.1"/><text class="lf e" transform="translate(225.8,1255.9) rotate(-45.9)">Ps 135107</text></g>
<g id="leaf-PYU1-T009737"><use href="#py" x="274.4" y="1022.6"/><text class="lf e" transform="translate(256.2,1035) rotate(-34.3)">PYU1 T009737</text></g>
<g id="leaf-PYU1-T009736"><use href="#py" x="337.8" y="1015.6"/><text class="lf e" transform="translate(320,1028.5) rotate(-36)">PYU1 T009736</text></g>
<g id="leaf-PYU1-T009735"><use href="#py" x="320.3" y="959.8"/><text class="lf e" transform="translate(301.1,970.6) rotate(-29.3)">PYU1 T009735</text></g>
<g id="leaf-Ps-135095"><use href="#ps" x="359.8" y="907"/><text class="lf e" transform="translate(339.9,916.3) rotate(-25)">Ps 135095</text></g>
<g id="leaf-Ps-135096"><use href="#ps" x="349.1" y="885.2"/><text class="lf e" transform="translate(329,894.2) rotate(-24)">Ps 135096</text></g>
<g id="leaf-Ps-145373"><use href="#ps" x="339.8" y="862.4"/><text class="lf e" transform="translate(319.5,870.8) rotate(-22.6)">Ps 145373</text></g>
<g id="leaf-Ps-135109"><use href="#ps" x="274.1" y="857.3"/><text class="lf e" transform="translate(253.3,864.5) rotate(-19.1)">Ps 135109</text></g>
<g id="leaf-Ps-128083"><use href="#ps" x="136.9" y="864.5"/><text class="lf e" transform="translate(115.9,871.1) rotate(-17.5)">Ps 128083</text></g>
<g id="leaf-PYU1-T014093"><use href="#py" x="155.4" y="825.1"/><text class="lf e" transform="translate(133.8,829.4) rotate(-11.3)">PYU1 T014093</text></g>
<g id="leaf-Es-D8LRL6"><use href="#es" x="149.9" y="791.1"/><text class="lf e" transform="translate(128.3,795.2) rotate(-10.7)">Es D8LRL6</text></g>
<g id="leaf-Es-D7G8F1"><use href="#es" x="226.6" y="750.2"/><text class="lf e" transform="translate(204.7,752.5) rotate(-6.1)">Es D7G8F1</text></g>
<g id="leaf-Ps-139301"><use href="#ps" x="281.1" y="718.3"/><text class="lf e" transform="translate(259.1,719.4) rotate(-2.8)">Ps 139301</text></g>
<g id="leaf-Es-D8LJT6"><use href="#es" x="379.3" y="694.7"/><text class="lf e" transform="translate(357.3,694.5) rotate(0.5)">Es D8LJT6</text></g>
<g id="leaf-Ng-K8YW24"><use href="#es" x="441" y="677.3"/><text class="lf e" transform="translate(419,676) rotate(3.3)">Ng K8YW24</text></g>
<g id="leaf-Es-D7FS12"><use href="#es" x="315.3" y="644.6"/><text class="lf e" transform="translate(293.4,642.6) rotate(5.3)">Es D7FS12</text></g>
<g id="leaf-Es-D8LEC2"><use href="#es" x="366.1" y="628.8"/><text class="lf e" transform="translate(344.5,624.6) rotate(11.1)">Es D8LEC2</text></g>
<g id="leaf-Es-D8LNV2"><use href="#es" x="342.8" y="600.6"/><text class="lf e" transform="translate(321.3,595.7) rotate(12.8)">Es D8LNV2</text></g>
<g id="leaf-Es-D7FN15"><use href="#es" x="378.6" y="586.4"/><text class="lf e" transform="translate(357.5,580.2) rotate(16.5)">Es D7FN15</text></g>
<g id="leaf-DdiRWPRK1"><use href="#sq" fill="#808080" transform="translate(408.8,574.2) rotate(63.9)"/><text class="lf e" transform="translate(390.8,568) rotate(18.9)">DdiRWPRK1</text></g>
<g id="leaf-DdiRWPRK2"><use href="#sq" fill="#808080" transform="translate(465.5,575.8) rotate(69.8)"/><text class="lf e" transform="translate(448.2,567.8) rotate(24.8)">DdiRWPRK2</text></g>
<g id="leaf-Ps-128716"><use href="#ps" x="378.6" y="514.5"/><text class="lf e" transform="translate(358.3,505.9) rotate(23)">Ps 128716</text></g>
<g id="leaf-PYU1-T009453"><use href="#py" x="405.5" y="502.3"/><text class="lf e" transform="translate(385.9,492.3) rotate(27)">PYU1 T009453</text></g>
<g id="leaf-Ps-141522"><use href="#ps" x="436.3" y="496.3"/><text class="lf e" transform="translate(417.6,484.6) rotate(32)">Ps 141522</text></g>
<g id="leaf-PYU1-T014102"><use href="#py" x="438" y="474.7"/><text class="lf e" transform="translate(420.3,461.6) rotate(36.5)">PYU1 T014102</text></g>
<g id="leaf-Ps-144310"><use href="#ps" x="454.3" y="457.4"/><text class="lf e" transform="translate(437.3,443.4) rotate(39.5)">Ps 144310</text></g>
<g id="leaf-PYU1-T014285"><use href="#py" x="456.3" y="430.1"/><text class="lf e" transform="translate(440.1,415.2) rotate(42.5)">PYU1 T014285</text></g>
<g id="leaf-Ps-132532"><use href="#ps" x="468" y="410.1"/><text class="lf e" transform="translate(452.2,394.8) rotate(44.2)">Ps 132532</text></g>
<g id="leaf-PYU1-T004976"><use href="#py" x="479.3" y="388.3"/><text class="lf e" transform="translate(464.7,371.8) rotate(48.5)">PYU1 T004976</text></g>
<g id="leaf-Ps-132525"><use href="#ps" x="494.7" y="369.5"/><text class="lf e" transform="translate(480.2,353) rotate(48.7)">Ps 132525</text></g>
<g id="leaf-PYU1-T005015"><use href="#py" x="518" y="362.5"/><text class="lf e" transform="translate(504.4,345.2) rotate(51.7)">PYU1 T005015</text></g>
<g id="leaf-Ps-132524"><use href="#ps" x="496.2" y="285.1"/><text class="lf e" transform="translate(483.1,267.4) rotate(53.5)">Ps 132524</text></g>
<g id="leaf-PYU1-T005014"><use href="#py" x="506.7" y="250.3"/><text class="lf e" transform="translate(495.3,231.5) rotate(58.8)">PYU1 T005014</text></g>
<g id="leaf-Ps-141453"><use href="#ps" x="601.7" y="378.6"/><text class="lf e" transform="translate(590.5,359.6) rotate(59.5)">Ps 141453</text></g>
<g id="leaf-PYU1-T013139"><use href="#py" x="623" y="379.2"/><text class="lf e" transform="translate(613.1,359.6) rotate(63.2)">PYU1 T013139</text></g>
</g>
<g id="bootstrap">
<text class="bs" transform="translate(589.2,233.5) rotate(70) scale(0.85,1)">79</text>
<text class="bs" transform="translate(614.2,245.7) rotate(72.3) scale(0.85,1)">70</text>
<text class="bs" transform="translate(641.7,266.9) rotate(74.8) scale(0.85,1)">100</text>
<text class="bs" transform="translate(695.4,198.7) rotate(82.8) scale(0.85,1)">100</text>
<text class="bs" transform="translate(550.5,326) rotate(60.9) scale(0.85,1)">100</text>
<text class="bs" transform="translate(524.3,417) rotate(50.4) scale(0.85,1)">93</text>
<text class="bs" transform="translate(581.7,411) rotate(58.5) scale(0.85,1)">85</text>
<text class="bs" transform="translate(491.8,441.3) rotate(44.1) scale(0.85,1)">99</text>
<text class="bs" transform="translate(571.7,444.3) rotate(53.8) scale(0.85,1)">97</text>
<text class="bs" transform="translate(641.7,412.5) rotate(67.8) scale(0.85,1)">100</text>
<text class="bs" transform="translate(724.2,458) rotate(81.8) scale(0.85,1)">80</text>
<text class="bs" transform="translate(469,490) rotate(35.9) scale(0.85,1)">99</text>
<text class="bs" transform="translate(484,489) rotate(37.5) scale(0.85,1)">100</text>
<text class="bs" transform="translate(445.5,556) rotate(24.7) scale(0.85,1)">99</text>
<text class="bs" transform="translate(550.5,557.5) rotate(34.4) scale(0.85,1)">73</text>
<text class="bs" transform="translate(635.5,522.7) rotate(55.2) scale(0.85,1)">89</text>
<text class="bs" transform="translate(616.7,578.8) rotate(40.4) scale(0.85,1)">80</text>
<text class="bs" transform="translate(611.7,622.8) rotate(27.6) scale(0.85,1)">71</text>
<text class="bs" transform="translate(428,603) rotate(16.3) scale(0.85,1)">96</text>
<text class="bs" transform="translate(506.8,619.7) rotate(17.6) scale(0.85,1)">98</text>
<text class="bs" transform="translate(495.5,668.3) rotate(6.8) scale(0.85,1)">98</text>
<text class="bs" transform="translate(554.2,744.1) rotate(-12.1) scale(0.85,1)">86</text>
<text class="bs" transform="translate(616.7,750.1) rotate(-19.4) scale(0.85,1)">73</text>
<text class="bs" transform="translate(617.9,788) rotate(-32) scale(0.85,1)">71</text>
<text class="bs" transform="translate(657.9,844.2) rotate(-55) scale(0.85,1)">74</text>
<text class="bs" transform="translate(754.2,915.4) rotate(-88.7) scale(0.85,1)">84</text>
<text class="bs" transform="translate(430.5,900.3) rotate(-31.4) scale(0.85,1)">96</text>
<text class="bs" transform="translate(197.4,848.7) rotate(-14.8) scale(0.85,1)">99</text>
<text class="bs" transform="translate(371.1,859.3) rotate(-22.3) scale(0.85,1)">87</text>
<text class="bs" transform="translate(387.3,966.5) rotate(-35.6) scale(0.85,1)">96</text>
<text class="bs" transform="translate(402,1014) rotate(-41.3) scale(0.85,1)">74</text>
<text class="bs" transform="translate(332.4,1112.1) rotate(-44) scale(0.85,1)">98</text>
<text class="bs" transform="translate(298.6,1178.8) rotate(-46.1) scale(0.85,1)">96</text>
<text class="bs" transform="translate(791.1,200.2) rotate(-86.3) scale(0.85,1)">100</text>
<text class="bs" transform="translate(811.1,197.1) rotate(-84.1) scale(0.85,1)">73</text>
<text class="bs" transform="translate(839.8,357.9) rotate(-76.7) scale(0.85,1)">87</text>
<text class="bs" transform="translate(842.3,391.3) rotate(-74.9) scale(0.85,1)">96</text>
<text class="bs" transform="translate(937.3,385.2) rotate(-60.5) scale(0.85,1)">100</text>
<text class="bs" transform="translate(977.3,427.7) rotate(-51.3) scale(0.85,1)">82</text>
<text class="bs" transform="translate(1001,412.5) rotate(-49.9) scale(0.85,1)">99</text>
<text class="bs" transform="translate(1044.7,455) rotate(-40.6) scale(0.85,1)">87</text>
<text class="bs" transform="translate(1007.3,506) rotate(-38) scale(0.85,1)">93</text>
<text class="bs" transform="translate(1071,519.6) rotate(-30) scale(0.85,1)">81</text>
<text class="bs" transform="translate(911,555.1) rotate(-43.6) scale(0.85,1)">81</text>
<text class="bs" transform="translate(1146,545.4) rotate(-21.8) scale(0.85,1)">78</text>
<text class="bs" transform="translate(1131,478.7) rotate(-30.7) scale(0.85,1)">100</text>
<text class="bs" transform="translate(1189.1,539.3) scale(0.85,1)">97</text>
<text class="bs" transform="translate(1216.6,581.8) scale(0.85,1)">94</text>
<text class="bs" transform="translate(1182.9,600) scale(0.85,1)">88</text>
<text class="bs" transform="translate(1221.6,654.6) scale(0.85,1)">91</text>
<text class="bs" transform="translate(1196.6,686.4) scale(0.85,1)">97</text>
<text class="bs" transform="translate(1242.9,706.8) scale(0.85,1)">99</text>
<text class="bs" transform="translate(1212.9,722.9) scale(0.85,1)">89</text>
<text class="bs" transform="translate(1220.4,760.8) scale(0.85,1)">88</text>
<text class="bs" transform="translate(1229.1,788) scale(0.85,1)">97</text>
<text class="bs" transform="translate(1008.5,889.7) rotate(37.2) scale(0.85,1)">75</text>
<text class="bs" transform="translate(1041,880.6) rotate(32.6) scale(0.85,1)">98</text>
<text class="bs" transform="translate(1061,868.4) rotate(29.1) scale(0.85,1)">94</text>
<text class="bs" transform="translate(1022.3,929.1) rotate(41) scale(0.85,1)">95</text>
<text class="bs" transform="translate(901,960.4) rotate(61.4) scale(0.85,1)">96</text>
<text class="bs" transform="translate(891,1033.2) rotate(68.4) scale(0.85,1)">99</text>
<text class="bs" transform="translate(939.8,1022.6) rotate(60.7) scale(0.85,1)">81</text>
<text class="bs" transform="translate(989.8,1016.5) rotate(53.9) scale(0.85,1)">91</text>
<text class="bs" transform="translate(1024.8,1012) rotate(49.6) scale(0.85,1)">79</text>
<text class="bs" transform="translate(998.5,1057.5) rotate(56.2) scale(0.85,1)">86</text>
<text class="bs" transform="translate(956,1074.1) rotate(62.2) scale(0.85,1)">99</text>
<text class="bs" transform="translate(936,1068.1) rotate(64.3) scale(0.85,1)">92</text>
<text class="bs" transform="translate(877.3,1062) rotate(71.9) scale(0.85,1)">80</text>
<text class="bs" transform="translate(861.1,1078.7) rotate(74.9) scale(0.85,1)">92</text>
<text class="bs" transform="translate(816.1,1069.6) rotate(81.2) scale(0.85,1)">77</text>
<text class="bs" transform="translate(807.3,1106) rotate(83.2) scale(0.85,1)">96</text>
<text class="bs" transform="translate(765.5,1115.1) rotate(89.1) scale(0.85,1)">99</text>
<text class="bs" transform="translate(774.2,1078.7) rotate(87.7) scale(0.85,1)">100</text>
<text class="bs" transform="translate(761.7,1018) rotate(89.5) scale(0.85,1)">83</text>
<text class="bs" transform="translate(676.7,1022.6) rotate(-75.7) scale(0.85,1)">83</text>
<text class="bs" transform="translate(693,1101.4) rotate(-80.7) scale(0.85,1)">96</text>
<text class="bs" transform="translate(714.2,1096.9) rotate(-83.6) scale(0.85,1)">90</text>
<text class="bs" transform="translate(635.5,1081.7) rotate(-72.1) scale(0.85,1)">100</text>
<text class="bs" transform="translate(624.2,1051.4) rotate(-69) scale(0.85,1)">98</text>
<text class="bs" transform="translate(573,1043.8) rotate(-61.6) scale(0.85,1)">94</text>
<text class="bs" transform="translate(596.7,1025.6) rotate(-63.5) scale(0.85,1)">97</text>
<text class="bs" transform="translate(471.8,1031.7) rotate(-49.1) scale(0.85,1)">100</text>
</g>
<g id="group-labels">
<text class="gl" x="539.2" y="48.5">G9</text>
<text class="gl" x="620.5" y="50">G8</text>
<text class="gl" x="695.4" y="18.8">G11</text>
<text class="gl" x="399.3" y="162.3">G5</text>
<text class="gl" x="387" y="234">G6</text>
<text class="gl" x="526.7" y="226">G2</text>
<text class="gl" x="344.9" y="300.3">G7</text>
<text class="gl" x="302.4" y="362.4">G1</text>
<text class="gl" x="261.2" y="392.8">G4</text>
<text class="gl" x="226.2" y="442.8">G3</text>
<text class="gl" x="97.5" y="719.8">G12</text>
<text class="gl" x="187.4" y="815.4">G10</text>
<text class="gl" x="107.5" y="916.9">G13</text>
<text class="gl" x="178" y="953">G15</text>
<text class="gl" x="96.2" y="1137.8">G15</text>
<text class="gl" x="92.5" y="1302.5">G14</text>
</g>
<g id="subgroups">
<text class="sg" x="663" y="548.5">Subgroup 2</text>
<text class="sg" x="660.4" y="683.4">Subgroup 1</text>
<text class="sg" x="659.2" y="730.5">Subgroup 3</text>
<path d="M731.7,528.7 L739.2,503" stroke="#ff0000" stroke-width="2" marker-end="url(#ah)"/>
<path d="M650.4,675.8 L623,669.8" stroke="#ff0000" stroke-width="2" marker-end="url(#ah)"/>
<path d="M649.2,725 L621.2,730.4" stroke="#ff0000" stroke-width="2" marker-end="url(#ah)"/>
</g>
<g id="clade-labels">
<text class="cl" x="985" y="579.4">RKD</text>
<text class="cl" x="899.3" y="900.9">NLP</text>
</g>
<g id="scale-bar">
<path class="k" d="M1044.2,834.3 L1039.7,842.7 L1087.2,868.5 L1091.7,860.1"/>
<text class="bs" transform="translate(1070.2,843.3) rotate(-55) scale(0.85,1)">0.5</text>
</g>
<g id="legend">
<text class="lh" x="1254.9" y="861.5">Viridiplantae</text>
<use href="#sq" fill="#00e000" transform="translate(1231,883.6) rotate(45) scale(1.07)"/>
<text class="lg" x="1254.9" y="890.8"><tspan class="i">Arabidopsis thaliana</tspan> (At)</text>
<use href="#sq" fill="#0000f0" transform="translate(1231,912.9) rotate(45) scale(1.07)"/>
<text class="lg" x="1254.9" y="920.1"><tspan class="i">Glycine max</tspan> (Gm)</text>
<use href="#sq" fill="#00f0f0" transform="translate(1231,942.2) rotate(45) scale(1.07)"/>
<text class="lg" x="1254.9" y="949.4"><tspan class="i">Physcomitrella patens</tspan> (Pp)</text>
<use href="#sq" fill="#c0c0c0" transform="translate(1231,971.5) rotate(45) scale(1.07)"/>
<text class="lg" x="1254.9" y="978.7"><tspan class="i">Marchantia polymorpha</tspan> (Mp)</text>
<use href="#sq" fill="#c0c0c0" transform="translate(1231,1000.8) rotate(45) scale(1.07)"/>
<text class="lg" x="1254.9" y="1008"><tspan class="i">Triticum aestivum</tspan> (Ta)</text>
<use href="#sq" fill="#c0c0c0" transform="translate(1231,1030.1) rotate(45) scale(1.07)"/>
<text class="lg" x="1254.9" y="1037.3"><tspan class="i">Nicotiana tabacum</tspan> (Nt)</text>
<use href="#sq" fill="#c0c0c0" transform="translate(1231,1059.4) rotate(45) scale(1.07)"/>
<text class="lg" x="1254.9" y="1066.6"><tspan class="i">Malus domestica</tspan> (Md)</text>
<use href="#sq" fill="#c0c0c0" transform="translate(1231,1088.7) rotate(45) scale(1.07)"/>
<text class="lg" x="1254.9" y="1095.9"><tspan class="i">Brachypodium distachyon</tspan> (Bd)</text>
<text class="lh" x="1254.9" y="1125.2">Amoebozoa (slime mold)</text>
<use href="#sq" fill="#808080" transform="translate(1231,1147.3) rotate(45) scale(1.07)"/>
<text class="lg" x="1254.9" y="1154.5"><tspan class="i">Dictyostelium discoideum</tspan> (Ddi)</text>
<text class="lh" x="1254.9" y="1183.8">Green algae</text>
<use href="#sq" fill="#000" transform="translate(1231,1205.9) rotate(45) scale(1.07)"/>
<text class="lg" x="1254.9" y="1213.1"><tspan class="i">Chlamydomonas reinhardtii</tspan> (Cre)</text>
<use href="#sq" fill="#000" transform="translate(1231,1235.2) rotate(45) scale(1.07)"/>
<text class="lg" x="1254.9" y="1242.4"><tspan class="i">Volvox carteri</tspan> (Vca)</text>
<text class="lh" x="1254.9" y="1271.7">Brown algae / Microalgae</text>
<use href="#es" x="1231" y="1293.8"/>
<text class="lg" x="1254.9" y="1301"><tspan class="i">Ectocarpus siliculosus</tspan> (Es)</text>
<use href="#es" x="1231" y="1323.1"/>
<text class="lg" x="1254.9" y="1330.3"><tspan class="i">Nannochloropsis gaditana</tspan> (Ng)</text>
<text class="lh" x="1254.9" y="1359.6">Oomycetes</text>
<use href="#ps" x="1231" y="1381.7"/>
<text class="lg" x="1254.9" y="1388.9"><tspan class="i">Phytophthora sojae</tspan> (Ps)</text>
<use href="#py" x="1231" y="1411"/>
<text class="lg" x="1254.9" y="1418.2"><tspan class="i">Pythium ultimum</tspan> (PYU)</text>
</g>
</g>
</svg>
